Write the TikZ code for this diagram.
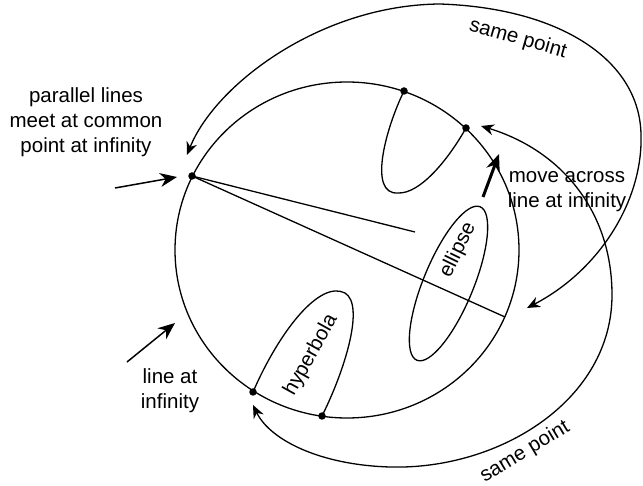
\documentclass[tikz,border=0pt]{standalone}
\usepackage{fontspec}
\setmainfont{Liberation Sans}
\usetikzlibrary{arrows.meta}

\begin{document}
\begin{tikzpicture}[
    x=1pt, y=-1pt,
    curve/.style={line width=1.3pt},
    dot/.style={circle, fill, inner sep=0pt, minimum size=7.5pt},
    note/.style={font=\fontsize{20.5}{25}\selectfont, align=center, inner sep=0pt},
    pointer/.style={-{Stealth[length=17pt, width=14pt]}, line width=1.5pt},
    samept/.style={{Stealth[length=13pt, width=11pt]}-{Stealth[length=13pt, width=11pt]}, line width=1.3pt}
]
\useasboundingbox (0,0) rectangle (643,486);

% Linha no infinito
\draw[curve] (347,250) ellipse [x radius=172, y radius=168];

% Pontos no infinito
\node[dot] (common) at (192,176) {};
\node[dot] (up1) at (404,91) {};
\node[dot] (up2) at (466,128) {};
\node[dot] (low1) at (253,392) {};
\node[dot] (low2) at (322,416) {};
\coordinate (near) at (415,232);
\coordinate (far) at (505,317);

% Retas paralelas
\draw[curve] (common.center) -- (near);
\draw[curve] (common.center) -- (far);

% Hiperbole
\draw[curve] (up1.center) .. controls (385,130) and (368,195) .. (398,193)
    .. controls (420,194) and (448,160) .. (up2.center);
\draw[curve] (low1.center) .. controls (280,330) and (320,280) .. (345,293)
    .. controls (365,305) and (345,370) .. (low2.center);
\node[note, rotate=61] (hyplabel) at (311,355) {hyperbola};

% Elipse
\draw[curve, rotate around={67.6:(448.5,283.5)}] (448.5,283.5) ellipse [x radius=83, y radius=25];
\node[note, rotate=64] (elllabel) at (458,250) {ellipse};

% Textos
\node[note] (parlabel) at (86,122) {parallel lines\\meet at common\\point at infinity};
\node[note] (linelabel) at (170,391) {line at\\infinity};
\node[note] (movelabel) at (567,192) {move across\\line at infinity};
\node[note, rotate=-16] (toplabel) at (518,39) {same point};
\node[note, rotate=31] (botlabel) at (525,452) {same point};

% Setas
\coordinate (partail) at (115,188);
\coordinate (partip) at (177,177);
\coordinate (linetail) at (127,362);
\coordinate (linetip) at (175,323);
\coordinate (movetail) at (483,197);
\coordinate (movetip) at (499,154);
\draw[pointer] (partail) -- (partip);
\draw[pointer] (linetail) -- (linetip);
\draw[pointer, line width=3pt] (movetail) -- (movetip);

% Mesmo ponto
\coordinate (topleft) at (187,155);
\coordinate (topright) at (527,308);
\coordinate (lowright) at (481,126);
\coordinate (lowleft) at (253,405);
\draw[samept] (topright) .. controls (600,270) and (643,200) .. (641,135)
    .. controls (640,60) and (560,8) .. (440,4)
    .. controls (320,5) and (215,85) .. (topleft);
\draw[samept] (lowright) .. controls (560,150) and (612,210) .. (612,295)
    .. controls (612,400) and (500,470) .. (390,467)
    .. controls (320,465) and (270,440) .. (lowleft);

\end{tikzpicture}
\end{document}
